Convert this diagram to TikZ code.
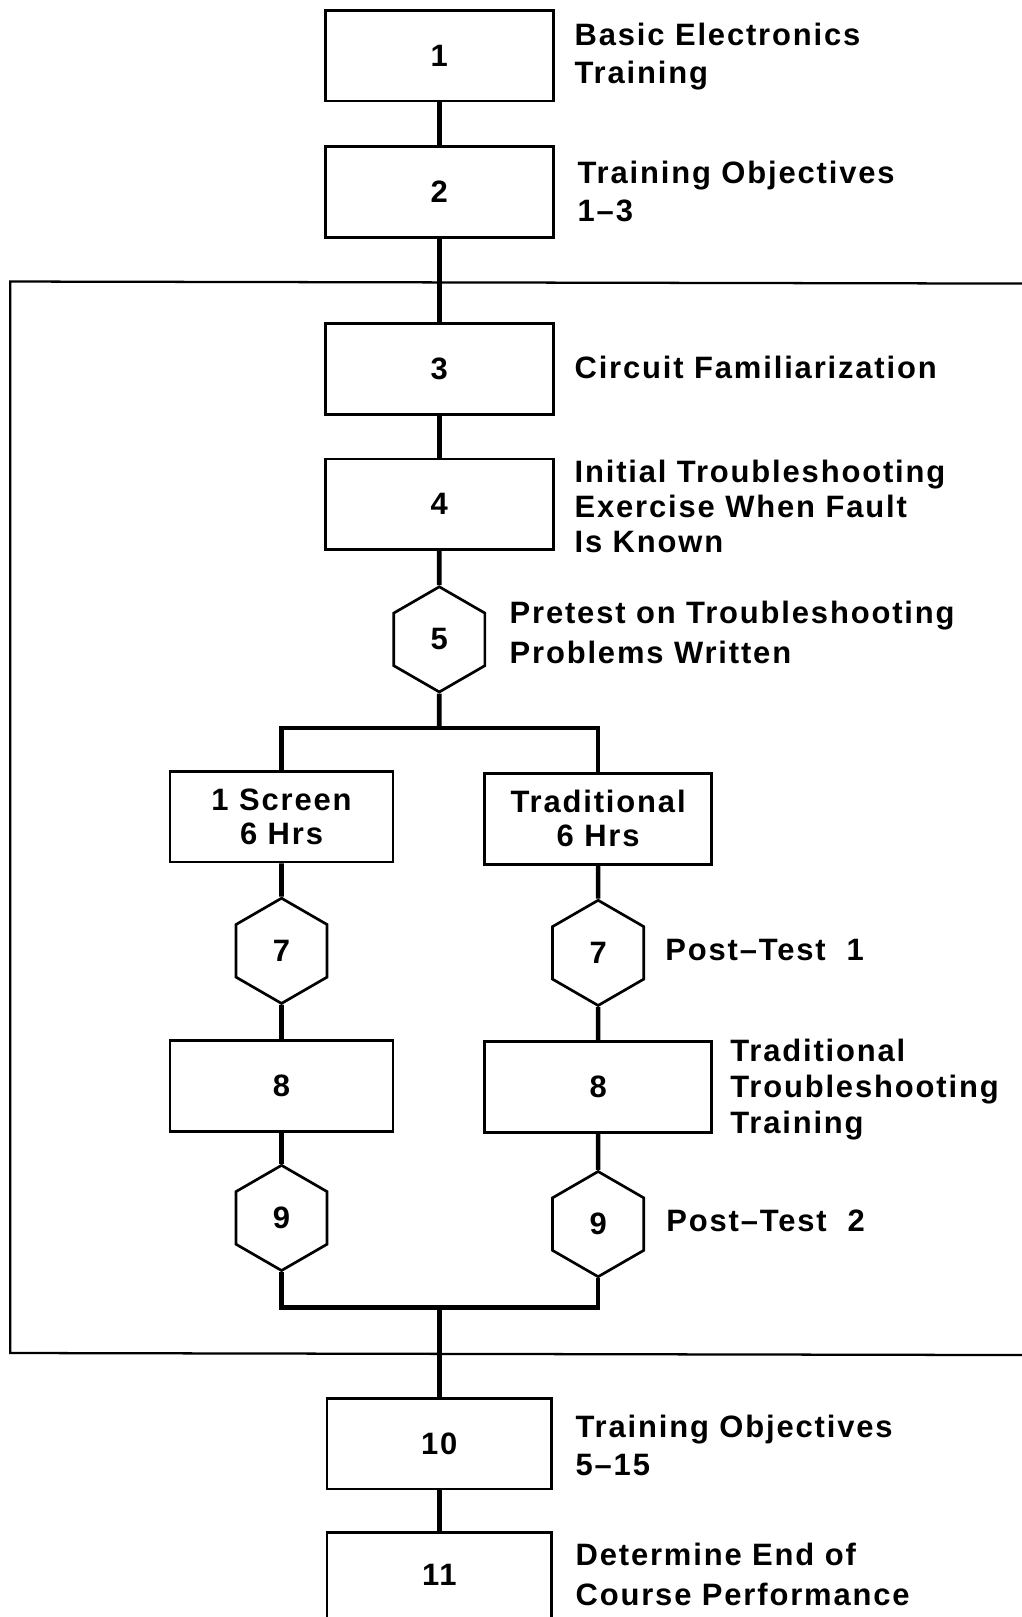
\documentclass[tikz,border=0pt]{standalone}
\usepackage{fontspec}
\usetikzlibrary{shapes.geometric}
\newfontfamily\lblfont{Liberation Sans}[LetterSpace=6]
\newcommand\nf[1]{\lblfont\bfseries\fontsize{30}{#1}\selectfont}
\begin{document}
\begin{tikzpicture}[x=1pt,y=-1pt,
  every node/.style={font=\nf{37}, inner sep=0pt},
  box/.style={draw, line width=2.6pt, minimum width=221pt, minimum height=88pt},
  hex/.style={draw, line width=2.6pt, regular polygon, regular polygon sides=6,
              minimum size=102pt, shape border rotate=90},
  conn/.style={line width=4.5pt},
  frame/.style={line width=2.2pt},
  note/.style={anchor=north west, align=left}]
\useasboundingbox (0,0) rectangle (991,1568);

% main column
\node[box] (b1) at (426,54) {1};
\node[box] (b2) at (426,186) {2};
\node[box] (b3) at (426,358) {3};
\node[box] (b4) at (426,489) {4};
\node[hex] (h5) at (426,620) {5};

% branches
\node[box, minimum width=216pt, align=center, font=\nf{33}] (bL) at (273,792) {1 Screen\\6 Hrs};
\node[box, minimum width=220pt, align=center, font=\nf{33}] (bR) at (580,794) {Traditional\\6 Hrs};
\node[hex] (h7L) at (273,922) {7};
\node[hex] (h7R) at (580,924) {7};
\node[box, minimum width=216pt] (b8L) at (273,1053) {8};
\node[box, minimum width=220pt] (b8R) at (580,1054) {8};
\node[hex] (h9L) at (273,1181) {9};
\node[hex] (h9R) at (580,1187) {9};

% lower column
\node[box, minimum width=218pt] (b10) at (426,1400) {10};
\node[box, minimum width=218pt, minimum height=120pt, anchor=north] (b11) at (426,1485) {};
\node (n11) at (426,1527) {11};

% frame
\coordinate (fTR) at (1000,275);
\coordinate (fTL) at (10,273);
\coordinate (fBL) at (10,1312);
\coordinate (fBR) at (1000,1314);
\draw[frame] (fTR) -- (fTL) -- (fBL) -- (fBR);

% connectors
\coordinate (split) at (426,706);
\coordinate (join) at (426,1268);
\draw[conn] (b1) -- (b2);
\draw[conn] (b2) -- (b3);
\draw[conn] (b3) -- (b4);
\draw[conn] (b4) -- (h5);
\draw[conn] (h5) -- (split);
\draw[conn] (bL.north) |- (split) -| (bR.north);
\draw[conn] (bL) -- (h7L);
\draw[conn] (h7L) -- (b8L);
\draw[conn] (b8L) -- (h9L);
\draw[conn] (bR) -- (h7R);
\draw[conn] (h7R) -- (b8R);
\draw[conn] (b8R) -- (h9R);
\draw[conn] (h9L.south) |- (join) -| (h9R.south);
\draw[conn] (join) -- (b10);
\draw[conn] (b10) -- (b11);

% labels
\node[note] (t1) at (557,22) {Basic Electronics\\Training};
\node[note] (t2) at (560,156) {Training Objectives\\1–3};
\node[note] (t3) at (557,345) {Circuit Familiarization};
\node[note, font=\nf{34}] (t4) at (557,446) {Initial Troubleshooting\\Exercise When Fault\\Is Known};
\node[note, font=\nf{38}] (t5) at (494,583) {Pretest on Troubleshooting\\Problems Written};
\node[note] (t7) at (645,911) {Post–Test\ \ 1};
\node[note, font=\nf{35}] (t8) at (708,1007) {Traditional\\Troubleshooting\\Training};
\node[note] (t9) at (646,1173) {Post–Test\ \ 2};
\node[note] (t10) at (558,1372) {Training Objectives\\5–15};
\node[note, font=\nf{39}] (t11) at (558,1496) {Determine End of\\Course Performance};
\end{tikzpicture}
\end{document}
